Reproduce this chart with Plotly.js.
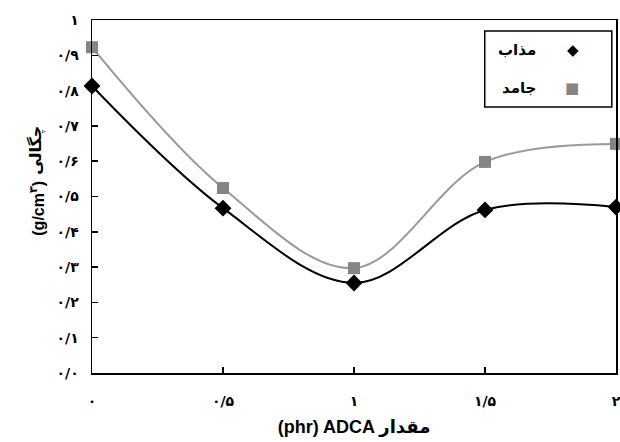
<!DOCTYPE html>
<html><head><meta charset="utf-8">
<script src="https://cdn.plot.ly/plotly-3.0.1.min.js"></script>
<style>html,body{margin:0;padding:0;background:#fff}#c{width:620px;height:442px}</style>
</head><body><div id="c"></div>
<script>
const xValues = [0, 0.5, 1, 1.5, 2];
const moltenName = 'مذاب';
const moltenValues = [0.813, 0.467, 0.255, 0.462, 0.470];
const solidName = 'جامد';
const solidValues = [0.923, 0.524, 0.297, 0.598, 0.649];
const xTickVals = [0, 0.5, 1, 1.5, 2];
const xTickText = ['۰', '۰/۵', '۱', '۱/۵', '۲'];
const yTickVals = [0, 0.1, 0.2, 0.3, 0.4, 0.5, 0.6, 0.7, 0.8, 0.9, 1];
const yTickText = ['۰/۰', '۰/۱', '۰/۲', '۰/۳', '۰/۴', '۰/۵', '۰/۶', '۰/۷', '۰/۸', '۰/۹', '۱'];
const xTitle = '\u200E(phr) ADCA \u200Fمقدار';
const yTitleWord = 'چگالی';
const yTitleUnit = '(g/cm<sup>۳</sup>)';

const font = 'Liberation Sans, Arial, DejaVu Sans, sans-serif';
const tickFontFamily = 'DejaVu Sans, sans-serif';

const traces = [
  {x: xValues, y: solidValues, name: solidName, type: 'scatter', mode: 'lines+markers',
   line: {shape: 'spline', smoothing: 1, color: '#9a9a9a', width: 2},
   marker: {symbol: 'square', size: 12, color: '#858585'}, cliponaxis: false},
  {x: xValues, y: moltenValues, name: moltenName, type: 'scatter', mode: 'lines+markers',
   line: {shape: 'spline', smoothing: 1, color: '#000', width: 2},
   marker: {symbol: 'diamond', size: 13, color: '#000'}, cliponaxis: false}
];

const axisCommon = {showgrid: false, zeroline: false, showline: true, mirror: true,
  linecolor: '#000', linewidth: 1.5, ticks: 'inside', ticklen: 6, tickwidth: 1.5, tickcolor: '#000',
  ticklabeloverflow: 'allow',
  tickfont: {family: tickFontFamily, size: 14, color: '#000', weight: 'bold'}};

const layout = {
  width: 620, height: 442,
  margin: {l: 92, r: 4, t: 20, b: 69},
  paper_bgcolor: '#fff', plot_bgcolor: '#fff',
  showlegend: false,
  xaxis: Object.assign({}, axisCommon, {range: [0, 2], tickvals: xTickVals, ticktext: xTickText,
    ticklabelstandoff: 15,
    title: {text: xTitle, font: {family: font, size: 18, color: '#000', weight: 'bold'}, standoff: 12}}),
  yaxis: Object.assign({}, axisCommon, {range: [0, 1], tickvals: yTickVals, ticktext: yTickText,
    ticklabelstandoff: 9}),
  shapes: [
    {type: 'rect', xref: 'paper', yref: 'paper', x0: 0.7495, x1: 0.992, y0: 0.7535, y1: 0.969,
     line: {color: '#000', width: 1.5}, fillcolor: '#fff', layer: 'above'}
  ],
  annotations: [
    {xref: 'paper', yref: 'paper', x: -0.128, y: 0.468, text: yTitleUnit, textangle: -90, showarrow: false,
     font: {family: font, size: 16, color: '#000', weight: 'bold'}},
    {xref: 'paper', yref: 'paper', x: -0.130, y: 0.632, text: yTitleWord, textangle: -90, showarrow: false,
     font: {family: font, size: 16, color: '#000', weight: 'bold'}},
    {xref: 'paper', yref: 'paper', x: 0.851, y: 0.946, text: moltenName, showarrow: false,
     xanchor: 'right', font: {family: font, size: 15, color: '#000', weight: 'bold'}},
    {xref: 'paper', yref: 'paper', x: 0.933, y: 0.946, text: '◆', showarrow: false,
     font: {family: 'DejaVu Sans', size: 15, color: '#000'}},
    {xref: 'paper', yref: 'paper', x: 0.851, y: 0.839, text: solidName, showarrow: false,
     xanchor: 'right', font: {family: font, size: 15, color: '#000', weight: 'bold'}},
    {xref: 'paper', yref: 'paper', x: 0.933, y: 0.839, text: '■', showarrow: false,
     font: {family: 'DejaVu Sans', size: 15, color: '#858585'}}
  ]
};

Plotly.newPlot('c', traces, layout, {displayModeBar: false, staticPlot: true});
</script></body></html>
